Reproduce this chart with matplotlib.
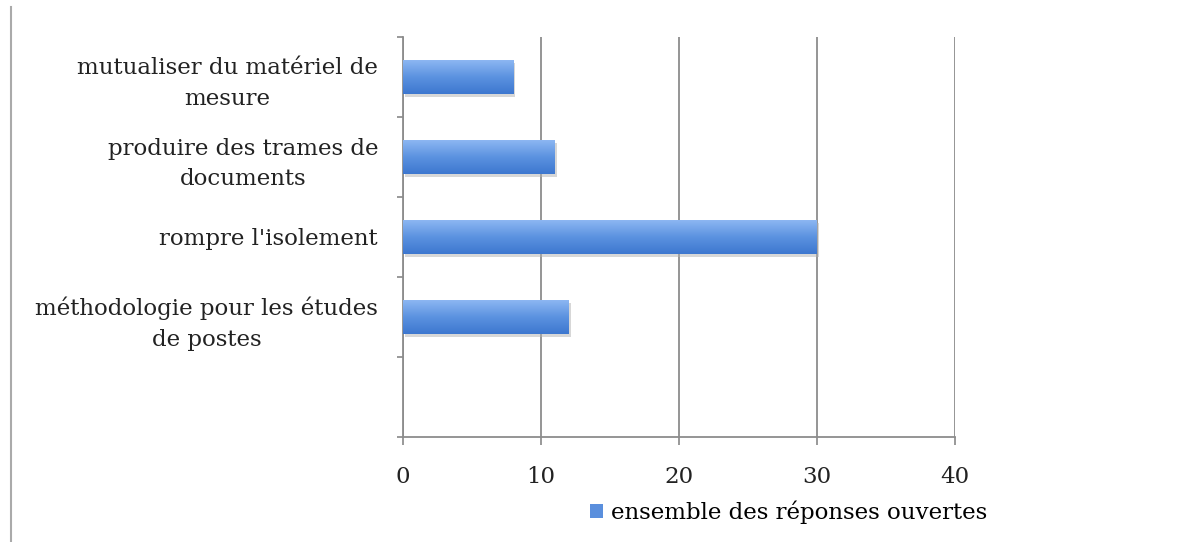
import matplotlib
matplotlib.use("Agg")
import matplotlib.pyplot as plt
import numpy as np
from matplotlib.patches import Patch
from matplotlib.lines import Line2D
from matplotlib.colors import LinearSegmentedColormap

categories = [
    "mutualiser du matériel de\nmesure",
    "produire des trames de\ndocuments",
    "rompre l'isolement",
    "méthodologie pour les études\nde postes",
]
values = [8, 11, 30, 12]
x_ticks = [0, 10, 20, 30, 40]
series_name = "ensemble des réponses ouvertes"

FONT = ["DejaVu Serif"]
FS = 16.5
plt.rcParams["font.family"] = FONT

fig = plt.figure(figsize=(12.02, 5.42), dpi=100)
ax = fig.add_axes([403 / 1202, 1 - 437 / 542, (955 - 403) / 1202, (437 - 37) / 542])

n_slots = 5
pos = np.arange(len(categories)) + 0.5
bar_h = 0.42

# shadow
ax.barh(pos + 0.04, values, height=bar_h, left=0.15, color="#b0b0b0", alpha=0.5,
        zorder=2, linewidth=0)
bars = ax.barh(pos, values, height=bar_h, color="#5a8fdd", zorder=3, linewidth=0)

# gradient fill
grad = np.linspace(0, 1, 256).reshape(-1, 1)
cmap = LinearSegmentedColormap.from_list("g", ["#8db7f2", "#5b92e0", "#3d77cf"])
for b in bars:
    x0, y0 = b.get_x(), b.get_y()
    w, h = b.get_width(), b.get_height()
    im = ax.imshow(grad, cmap=cmap, aspect="auto", extent=(x0, x0 + w, y0 + h, y0),
                   zorder=4, interpolation="bilinear")
    im.set_clip_path(b)

ax.set_xlim(0, 40)
ax.set_ylim(n_slots, 0)

ax.set_xticks(x_ticks)
ax.set_xticklabels([str(t) for t in x_ticks], fontsize=FS, color="#222222")
ax.set_yticks(pos)
ax.set_yticklabels(categories, fontsize=FS, color="#222222", multialignment="center",
                   linespacing=1.5)
ax.set_yticks(np.arange(0, n_slots + 1), minor=True)
ax.tick_params(axis="y", which="major", length=0, pad=18)
ax.tick_params(axis="y", which="minor", length=4, width=1.2, color="#888888", direction="out")
ax.tick_params(axis="x", which="major", length=6, width=1.2, color="#888888", direction="out", pad=15)

ax.grid(axis="x", color="#8c8c8c", linewidth=1.3, zorder=1)
ax.set_axisbelow(True)
for s in ["top", "right"]:
    ax.spines[s].set_visible(False)
for s in ["left", "bottom"]:
    ax.spines[s].set_color("#8c8c8c")
    ax.spines[s].set_linewidth(1.3)

handle = Patch(facecolor="#5a8fdd", edgecolor="none")
ax.legend([handle], [series_name], loc="center left",
          bbox_to_anchor=(590 / 1202, 1 - 512 / 542), bbox_transform=fig.transFigure,
          frameon=False, fontsize=FS, handlelength=0.55, handleheight=0.55,
          handletextpad=0.35, borderpad=0, borderaxespad=0)

# left border line of the original frame
fig.add_artist(Line2D([11 / 1202, 11 / 1202], [0, 1 - 7 / 542], transform=fig.transFigure,
                      color="#aaaaaa", linewidth=1.5))

fig.savefig("out.png", dpi=100, facecolor="white")
